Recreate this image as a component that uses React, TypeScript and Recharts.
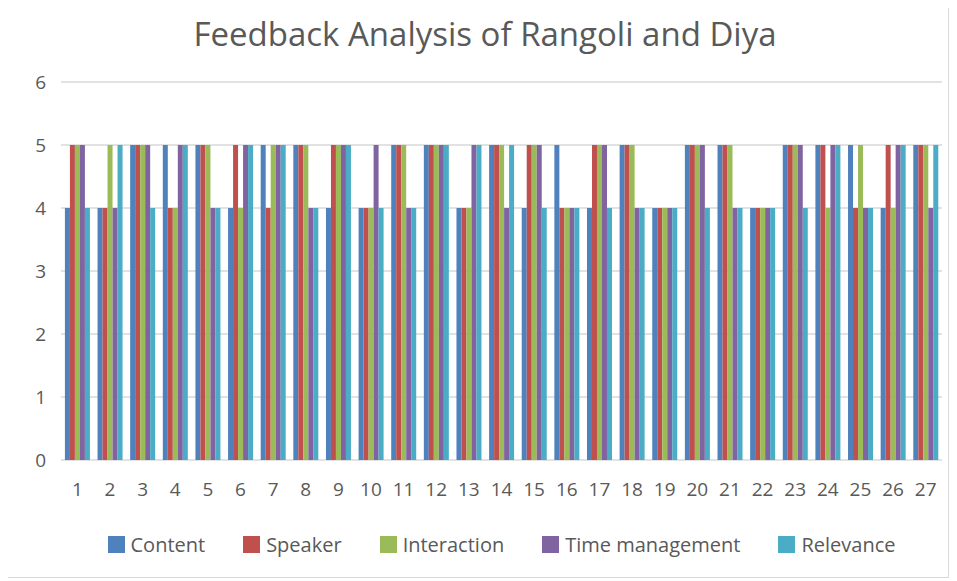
import React from "react"
import { Bar, BarChart, CartesianGrid, XAxis, YAxis } from "recharts"

const groups = ["1","2","3","4","5","6","7","8","9","10","11","12","13","14","15","16","17","18","19","20","21","22","23","24","25","26","27"]
const content = [4,4,5,5,5,4,5,5,4,4,5,5,4,5,4,5,4,5,4,5,5,4,5,5,5,4,5]
const speaker = [5,4,5,4,5,5,4,5,5,4,5,5,4,5,5,4,5,5,4,5,5,4,5,5,4,5,5]
const interaction = [5,5,5,4,5,4,5,5,5,4,5,5,4,5,5,4,5,5,4,5,5,4,5,4,5,4,5]
const timeManagement = [5,4,5,5,4,5,5,4,5,5,4,5,5,4,5,4,5,4,4,5,4,4,5,5,4,5,4]
const relevance = [4,5,4,5,4,5,5,4,5,4,4,5,5,5,4,4,4,4,4,4,4,4,4,5,4,5,5]
const yTicks = [0, 1, 2, 3, 4, 5, 6]

const series = [
  { key: "Content", values: content, color: "#4F81BD" },
  { key: "Speaker", values: speaker, color: "#C0504D" },
  { key: "Interaction", values: interaction, color: "#9BBB59" },
  { key: "Time management", values: timeManagement, color: "#8064A2" },
  { key: "Relevance", values: relevance, color: "#4BACC6" },
]

const data = groups.map((g, i) => {
  const row: { [key: string]: string | number } = { name: g }
  series.forEach((s) => { row[s.key] = s.values[i] })
  return row
})

const FONT = "'Open Sans', sans-serif"
const TEXT = "#595959"

export default function App() {
  return (
    <div style={{ position: "relative", width: 945, height: 570, fontFamily: FONT }}>
      <div style={{ position: "absolute", left: -4, top: -1, width: 945, height: 571, border: "1px solid #d9d9d9", boxSizing: "border-box" }} />
      <div style={{ position: "absolute", top: 3, left: -23, width: 1000, textAlign: "center", fontSize: 33, color: TEXT }}>
        Feedback Analysis of Rangoli and Diya
      </div>
      <BarChart
        width={945}
        height={570}
        data={data}
        margin={{ top: 74, right: 11, bottom: 88, left: 0 }}
        barCategoryGap="12%"
        barGap={0}
      >
        <CartesianGrid vertical={false} stroke="#d9d9d9" strokeWidth={1.5} />
        <XAxis
          dataKey="name"
          axisLine={false}
          tickLine={false}
          height={30}
          tickMargin={17}
          tick={{ fill: TEXT, fontSize: 19, fontFamily: FONT }}
          interval={0}
        />
        <YAxis
          domain={[0, 6]}
          ticks={yTicks}
          axisLine={false}
          tickLine={false}
          width={53}
          tickMargin={9}
          tick={{ fill: TEXT, fontSize: 19, fontFamily: FONT }}
        />
        {series.map((s) => (
          <Bar key={s.key} dataKey={s.key} fill={s.color} isAnimationActive={false} />
        ))}
      </BarChart>
      <div style={{ position: "absolute", top: 523, left: 53, width: 881, display: "flex", justifyContent: "center", gap: 38, fontSize: 20, color: TEXT }}>
        {series.map((s) => (
          <div key={s.key} style={{ display: "flex", alignItems: "center" }}>
            <span style={{ width: 17, height: 17, background: s.color, marginRight: 6, display: "inline-block" }} />
            <span>{s.key}</span>
          </div>
        ))}
      </div>
    </div>
  )
}
